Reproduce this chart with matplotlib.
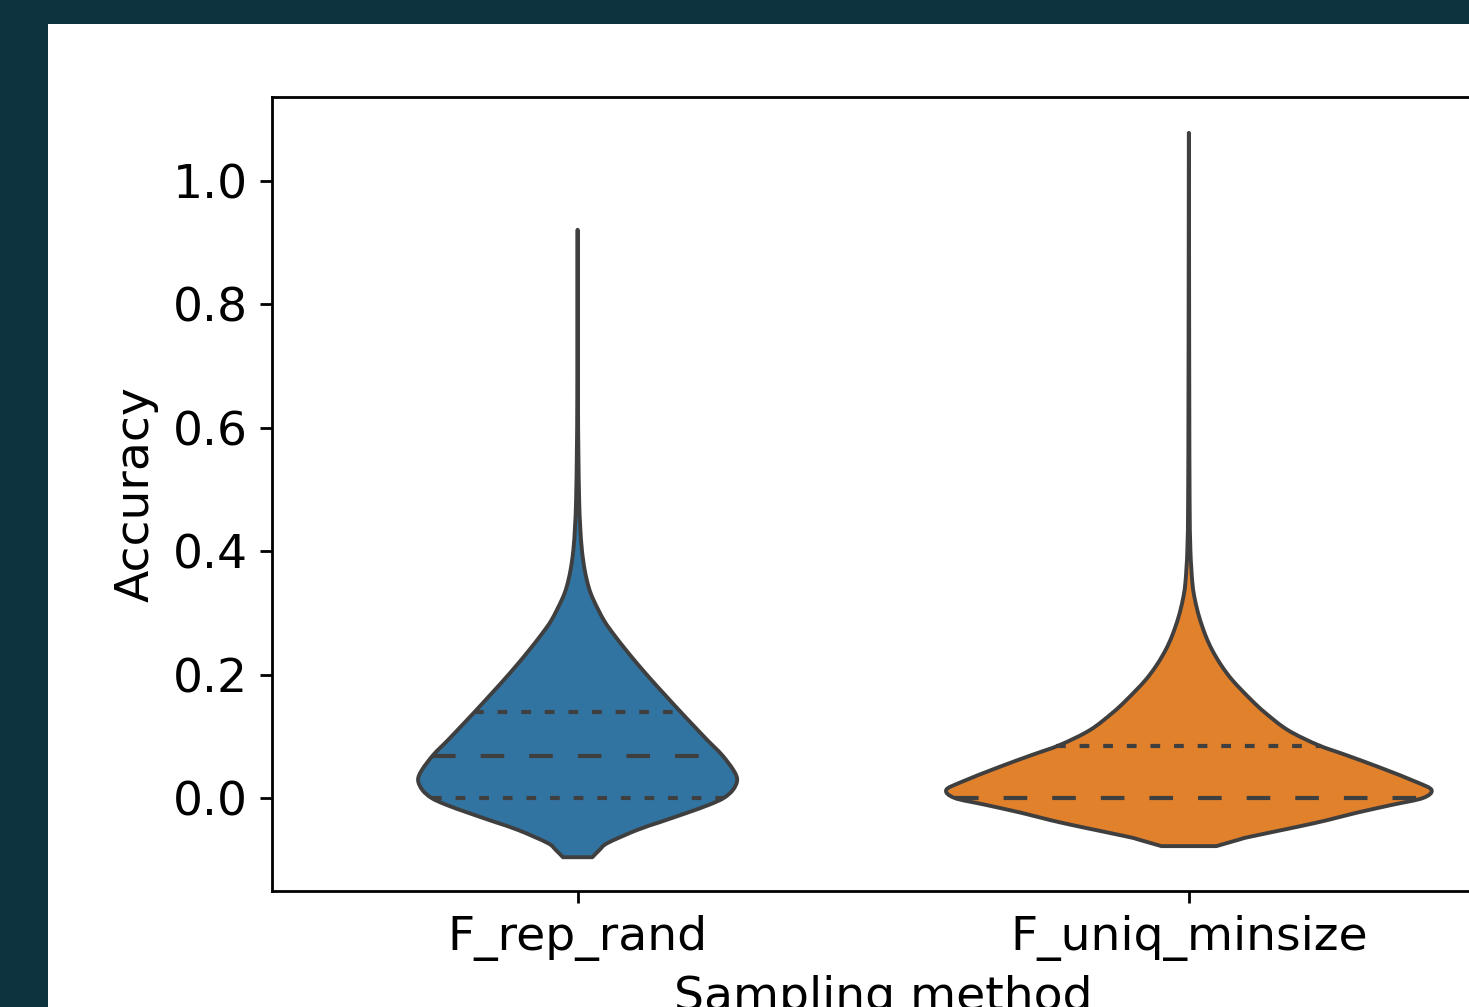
import matplotlib
matplotlib.use("Agg")
import matplotlib.pyplot as plt
from matplotlib.patches import Rectangle, PathPatch
from matplotlib.path import Path
import numpy as np

categories = ["F_rep_rand", "F_uniq_minsize"]
colors = ["#3274a1", "#e1812c"]

# violin outlines: accuracy value and half width (in category units)
rep_rand_y = [-0.096, -0.084, -0.073, -0.052, -0.039, -0.024, -0.011, 0.0, 0.013, 0.029,
              0.045, 0.070, 0.094, 0.118, 0.139, 0.167, 0.191, 0.216, 0.240, 0.264,
              0.288, 0.321, 0.342, 0.370, 0.402, 0.439, 0.483, 0.564, 0.645, 0.807, 0.921]
rep_rand_w = [0.024, 0.036, 0.049, 0.097, 0.135, 0.179, 0.215, 0.239, 0.254, 0.261,
              0.255, 0.236, 0.212, 0.189, 0.169, 0.143, 0.121, 0.099, 0.079, 0.060,
              0.043, 0.026, 0.018, 0.0115, 0.007, 0.0043, 0.0025, 0.0012, 0.0006, 0.0003, 0.0]

uniq_minsize_y = [-0.078, -0.068, -0.063, -0.047, -0.036, -0.024, -0.011, 0.0, 0.013, 0.026,
                  0.050, 0.070, 0.086, 0.110, 0.138, 0.159, 0.190, 0.215, 0.240, 0.264,
                  0.293, 0.321, 0.348, 0.402, 0.483, 0.645, 0.807, 0.969, 1.078]
uniq_minsize_w = [0.045, 0.080, 0.099, 0.176, 0.226, 0.274, 0.333, 0.383, 0.397, 0.372,
                  0.311, 0.256, 0.211, 0.162, 0.125, 0.102, 0.072, 0.053, 0.038, 0.027,
                  0.017, 0.010, 0.0058, 0.0025, 0.0012, 0.0007, 0.0004, 0.0002, 0.0]

rep_rand_quart = [0.0, 0.068, 0.139]
uniq_minsize_quart = [0.0, 0.0, 0.084]

yticks = [0.0, 0.2, 0.4, 0.6, 0.8, 1.0]


def smooth_outline(xs, ys):
    # catmull-rom curve through the read points, drawn as cubic bezier pieces
    pts = np.column_stack([xs, ys])
    ext = np.vstack([pts[0], pts, pts[-1]])
    verts = [pts[0]]
    codes = [Path.MOVETO]
    for i in range(len(pts) - 1):
        p0, p1, p2, p3 = ext[i], ext[i + 1], ext[i + 2], ext[i + 3]
        verts += [p1 + (p2 - p0) / 6, p2 - (p3 - p1) / 6, p2]
        codes += [Path.CURVE4] * 3
    verts.append(pts[0])
    codes.append(Path.CLOSEPOLY)
    return Path(verts, codes)


plt.rcParams['font.family'] = ['DejaVu Sans']
plt.rcParams['lines.scale_dashes'] = False

fig = plt.figure(figsize=(14.69, 10.07), dpi=100)
fig.patch.set_facecolor("#0d333e")
# white card the chart sits on
fig.patches.append(Rectangle((48 / 1469, 0), 1, 1 - 24 / 1007, transform=fig.transFigure,
                             facecolor="white", edgecolor="none", zorder=-5))

# right edge of the axes runs past the picture, as in the screenshot
ax = fig.add_axes([272 / 1469, 1 - 891 / 1007, 1222.5 / 1469, 794 / 1007])
ax.set_zorder(1)

line_col = "#3f3f3f"
outlines = [(rep_rand_y, rep_rand_w), (uniq_minsize_y, uniq_minsize_w)]
quarts = [rep_rand_quart, uniq_minsize_quart]
styles = [(0, (7, 10)), (0, (17, 18)), (0, (7, 10))]

for pos, ((vy, vw), q, col) in enumerate(zip(outlines, quarts, colors)):
    vy = np.array(vy)
    vw = np.array(vw)
    xs = np.concatenate([pos - vw, (pos + vw)[::-1][1:]])
    ys = np.concatenate([vy, vy[::-1][1:]])
    patch = PathPatch(smooth_outline(xs, ys), facecolor=col, edgecolor=line_col,
                      linewidth=2.8, joinstyle="round", zorder=2)
    ax.add_patch(patch)
    for i, val in enumerate(q):
        if i == 0 and val == q[1]:
            continue
        hw = np.interp(val, vy, vw)
        ax.plot([pos - hw, pos + hw], [val, val], color=line_col, linewidth=3.0,
                linestyle=styles[i], zorder=3)

ax.set_xlim(-0.5, 1.5)
ax.set_ylim((798 - 891) / 617, (798 - 97) / 617)
ax.set_xticks([0, 1])
ax.set_xticklabels(categories)
ax.set_yticks(yticks)
ax.set_yticklabels(["%.1f" % t for t in yticks])
ax.tick_params(labelsize=34, width=2, length=8.6, pad=8.6)
for s in ax.spines.values():
    s.set_linewidth(2)
ax.set_xlabel("Sampling method", fontsize=34, labelpad=10)
ax.set_ylabel("Accuracy", fontsize=34, labelpad=10)

fig.savefig("out.png", dpi=100, facecolor=fig.get_facecolor())
